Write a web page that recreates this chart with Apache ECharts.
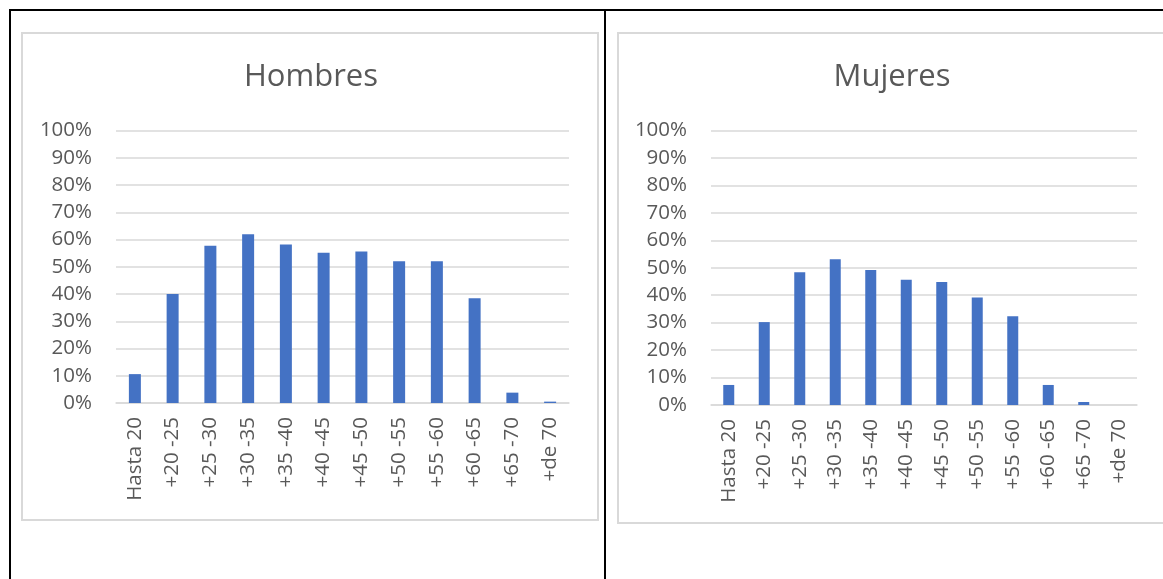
<!DOCTYPE html>
<html>
<head>
<meta charset="utf-8">
<script src="https://cdn.jsdelivr.net/npm/echarts@6/dist/echarts.min.js"></script>
<style>
  html, body { margin: 0; padding: 0; background: #ffffff; }
  #chart { width: 1163px; height: 579px; }
</style>
</head>
<body>
<div id="chart"></div>
<script>
// Data (percent)
const categories = ['Hasta 20', '+20 -25', '+25 -30', '+30 -35', '+35 -40', '+40 -45', '+45 -50', '+50 -55', '+55 -60', '+60 -65', '+65 -70', '+de 70'];
const hombres = [10.6, 40.0, 57.7, 61.9, 58.2, 55.1, 55.6, 52.0, 52.0, 38.4, 3.8, 0.5];
const mujeres = [7.3, 30.2, 48.4, 53.1, 49.2, 45.6, 44.8, 39.2, 32.3, 7.3, 1.1, 0];
const titles = ['Hombres', 'Mujeres'];
const yTicks = { min: 0, max: 100, interval: 10 };

const FONT = 'Open Sans';
const TXT = '#595959';
const GRIDC = '#d9d9d9';
const BAR = '#4472C4';

const chart = echarts.init(document.getElementById('chart'), null, { renderer: 'canvas' });

function xAxis(gi) {
  return {
    type: 'category', gridIndex: gi, data: categories,
    axisTick: { show: false },
    axisLine: { show: true, lineStyle: { color: GRIDC, width: 1.5 } },
    axisLabel: { rotate: 90, interval: 0, margin: 14, color: TXT, fontFamily: FONT, fontSize: 20.5 }
  };
}
function yAxis(gi) {
  return {
    type: 'value', gridIndex: gi, min: yTicks.min, max: yTicks.max, interval: yTicks.interval,
    axisLine: { show: false }, axisTick: { show: false },
    splitLine: { lineStyle: { color: GRIDC, width: 1.5 } },
    axisLabel: { formatter: '{value}%', margin: 24, color: TXT, fontFamily: FONT, fontSize: 20.5 }
  };
}

chart.setOption({
  animation: false,
  backgroundColor: '#ffffff',
  title: [
    { text: titles[0], left: 311, top: 62, textAlign: 'center', padding: 0,
      textStyle: { fontFamily: FONT, fontSize: 31, fontWeight: 'normal', color: TXT } },
    { text: titles[1], left: 892, top: 62, textAlign: 'center', padding: 0,
      textStyle: { fontFamily: FONT, fontSize: 31, fontWeight: 'normal', color: TXT } }
  ],
  graphic: [
    { type: 'rect', z: -10, shape: { x: 22, y: 33, width: 576, height: 487 },
      style: { fill: '#ffffff', stroke: GRIDC, lineWidth: 2 } },
    { type: 'rect', z: -10, shape: { x: 618, y: 33, width: 600, height: 490 },
      style: { fill: '#ffffff', stroke: GRIDC, lineWidth: 2 } },
    { type: 'line', z: 100, shape: { x1: 9, y1: 10, x2: 1163, y2: 10 }, style: { stroke: '#000', lineWidth: 2 } },
    { type: 'line', z: 100, shape: { x1: 10, y1: 9, x2: 10, y2: 579 }, style: { stroke: '#000', lineWidth: 2 } },
    { type: 'line', z: 100, shape: { x1: 605, y1: 9, x2: 605, y2: 579 }, style: { stroke: '#000', lineWidth: 2 } }
  ],
  grid: [
    { left: 116, top: 130.5, width: 453, height: 272.5, containLabel: false },
    { left: 711, top: 130.5, width: 426, height: 274.5, containLabel: false }
  ],
  xAxis: [xAxis(0), xAxis(1)],
  yAxis: [yAxis(0), yAxis(1)],
  series: [
    { type: 'bar', xAxisIndex: 0, yAxisIndex: 0, data: hombres, barWidth: 12,
      itemStyle: { color: BAR } },
    { type: 'bar', xAxisIndex: 1, yAxisIndex: 1, data: mujeres, barWidth: 11,
      itemStyle: { color: BAR } }
  ]
});
</script>
</body>
</html>
